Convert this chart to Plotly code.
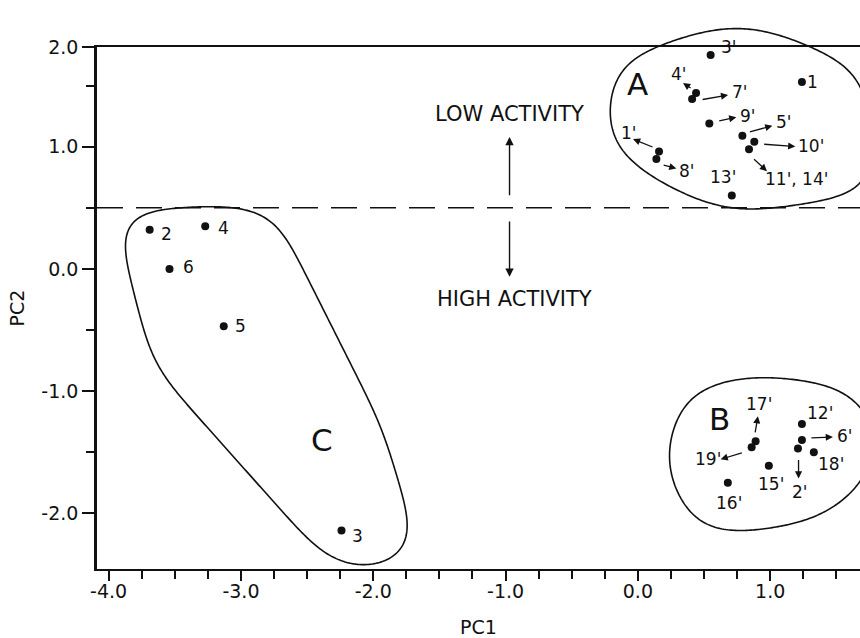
import numpy as np
import plotly.graph_objects as go

# ---------------- data ----------------
grp_a_labels = ["1", "3'", "4'", "7'", "9'", "5'", "10'", "11', 14'", "1'", "8'", "13'"]
grp_a_pc1 = [1.24, 0.55, 0.44, 0.41, 0.54, 0.79, 0.88, 0.84, 0.16, 0.14, 0.71]
grp_a_pc2 = [1.53, 1.75, 1.44, 1.39, 1.19, 1.09, 1.04, 0.98, 0.96, 0.90, 0.60]

grp_b_labels = ["17'", "19'", "12'", "6'", "2'", "18'", "15'", "16'"]
grp_b_pc1 = [0.89, 0.86, 1.24, 1.24, 1.21, 1.33, 0.99, 0.68]
grp_b_pc2 = [-1.41, -1.46, -1.27, -1.40, -1.47, -1.50, -1.61, -1.75]

grp_c_labels = ["2", "4", "6", "5", "3"]
grp_c_pc1 = [-3.69, -3.27, -3.54, -3.13, -2.24]
grp_c_pc2 = [0.32, 0.35, 0.00, -0.47, -2.14]

activity_cutoff = 0.5

x_tick_vals = [-4, -3, -2, -1, 0, 1]
x_tick_text = ["-4.0", "-3.0", "-2.0", "-1.0", "0.0", "1.0"]
y_tick_vals = [-2, -1, 0, 1, 2]
y_tick_text = ["-2.0", "-1.0", "0.0", "1.0", "2.0"]

# ---------------- layout geometry ----------------
W_FIG, H_FIG = 860, 638
ML, MR, MT, MB = 97, 0, 47, 69
X0, X1 = -4.088, 1.679
Y0, Y1 = -2.456, 1.816
PW, PH = W_FIG - ML - MR, H_FIG - MT - MB
SX, SY = PW / (X1 - X0), PH / (Y1 - Y0)

FONT = "DejaVu Sans"
INK = "#111111"
LABEL_FS = 17
GROUP_FS = 31

# label offsets from each point, screen pixels (x right, y down)
label_offset = {
    "1": (10.5, 0), "3'": (18.5, -8), "4'": (-17, -19), "7'": (48, -7),
    "9'": (39, -7.5), "5'": (41.5, -13.5), "10'": (57, 4), "11', 14'": (47, 30),
    "1'": (-30, -19), "8'": (31, 12.4), "13'": (-8.4, -18.6),
    "17'": (3, -37), "19'": (-44, 12), "12'": (18, -11), "6'": (43, -4),
    "2'": (2.3, 43), "18'": (17, 12), "15'": (2.4, 18), "16'": (1, 20),
    "2": (17, 4), "4": (18, 2), "6": (19, -2), "5": (17, 0), "3": (16, 6),
}
# leader arrows: (tail dx, tail dy, head dx, head dy) in screen pixels
label_arrow = {
    "4'": (-4, -4, -13, -10), "7'": (9, 0.7, 36, -4), "9'": (8.4, -2.4, 27, -6.2),
    "5'": (6, -3.4, 30, -10), "10'": (8.4, 2.3, 41, 4.7), "11', 14'": (3.6, 8.8, 18, 22),
    "1'": (-5, -4, -26, -12.5), "8'": (5.8, 5.7, 20, 9.5),
    "17'": (-0.7, -7.4, 2.3, -25), "19'": (-8.3, 5, -31, 12), "6'": (8, -2, 31, -3),
    "2'": (0.6, 10, 0.6, 30),
}
# group letters (data coordinates), enclosure clearances (left, right, top, bottom) px
# and smoothing length (px) of each enclosure outline
group_letter = {"A": (0.0, 1.51), "B": (0.62, -1.23), "C": (-2.39, -1.40)}
group_pad = {"A": (16, 48, 16, 13), "B": (30, 26, 22, 24), "C": (26, 50, 16, 26)}
group_smooth = {"A": 32, "B": 28, "C": 26}
extra_clearance = {"5": 74}


def to_px(x, y):
    return ML + (x - X0) * SX, MT + (Y1 - y) * SY


def to_paper(px, py):
    return (px - ML) / PW, 1 - (py - MT) / PH


def text_halfsize(txt, fs):
    w = 0.0
    for ch in txt:
        if ch.isdigit():
            w += 0.636
        elif ch in "',":
            w += 0.29
        elif ch == " ":
            w += 0.318
        else:
            w += 0.7
    return w * fs / 2, 0.37 * fs


def convex_hull(pts):
    pts = sorted(set(pts))

    def cross(o, a, b):
        return (a[0] - o[0]) * (b[1] - o[1]) - (a[1] - o[1]) * (b[0] - o[0])
    lower, upper = [], []
    for p in pts:
        while len(lower) >= 2 and cross(lower[-2], lower[-1], p) <= 0:
            lower.pop()
        lower.append(p)
    for p in reversed(pts):
        while len(upper) >= 2 and cross(upper[-2], upper[-1], p) <= 0:
            upper.pop()
        upper.append(p)
    return lower[:-1] + upper[:-1]


def smooth_closed(poly, sigma, step=2.0):
    """Resample a closed polygon evenly and low-pass it along its arc length."""
    p = np.array(poly + [poly[0]], dtype=float)
    seg = np.hypot(*np.diff(p, axis=0).T)
    s = np.concatenate([[0], np.cumsum(seg)])
    n = int(s[-1] / step)
    t = np.linspace(0, s[-1], n, endpoint=False)
    xs = np.interp(t, s, p[:, 0])
    ys = np.interp(t, s, p[:, 1])
    k = np.arange(-int(3 * sigma / step), int(3 * sigma / step) + 1)
    w = np.exp(-0.5 * (k * step / sigma) ** 2)
    w /= w.sum()
    xs2 = sum(wi * np.roll(xs, -ki) for ki, wi in zip(k, w))
    ys2 = sum(wi * np.roll(ys, -ki) for ki, wi in zip(k, w))
    return np.column_stack([xs2, ys2])


def enclosure_path(name, xs, ys, labels):
    pl, pr, pt, pb = group_pad[name]
    boxes = []
    for x, y, lab in zip(xs, ys, labels):
        cx, cy = to_px(x, y)
        e = extra_clearance.get(lab)
        boxes.append((cx, cy, 4, 4, (e, e, e, e) if e else (pl, pr, pt, pb)))
        dx, dy = label_offset[lab]
        hw, hh = text_halfsize(lab, LABEL_FS)
        boxes.append((cx + dx, cy + dy, hw, hh, (pl, pr, pt, pb)))
    gx, gy = to_px(*group_letter[name])
    hw, hh = text_halfsize(name, GROUP_FS)
    boxes.append((gx, gy, hw, hh, (pl, pr, pt, pb)))
    pts = []
    for cx, cy, hw, hh, (l, r, t, b) in boxes:
        for th in np.linspace(0, 2 * np.pi, 48, endpoint=False):
            c, s = np.cos(th), np.sin(th)
            px = cx + np.sign(c) * hw + (r if c > 0 else l) * c
            py = cy + np.sign(s) * hh + (b if s > 0 else t) * s
            pts.append((round(px, 3), round(py, 3)))
    outline = smooth_closed(convex_hull(pts), group_smooth[name])
    coords = [to_paper(px, py) for px, py in outline]
    return "M " + " L ".join(f"{a:.5f},{b:.5f}" for a, b in coords) + " Z"


fig = go.Figure()
annotations = []
shapes = []

for name, xs, ys, labels in [("A", grp_a_pc1, grp_a_pc2, grp_a_labels),
                             ("B", grp_b_pc1, grp_b_pc2, grp_b_labels),
                             ("C", grp_c_pc1, grp_c_pc2, grp_c_labels)]:
    fig.add_trace(go.Scatter(
        x=xs, y=ys, mode="markers", text=labels, hoverinfo="text+x+y",
        marker=dict(size=8, color=INK), showlegend=False, cliponaxis=False))
    for x, y, lab in zip(xs, ys, labels):
        dx, dy = label_offset[lab]
        annotations.append(dict(x=x, y=y, xref="x", yref="y", text=lab, showarrow=False,
                                xshift=dx, yshift=-dy,
                                font=dict(family=FONT, size=LABEL_FS, color=INK)))
        if lab in label_arrow:
            tx, ty, hx, hy = label_arrow[lab]
            annotations.append(dict(
                x=x + hx / SX, y=y - hy / SY, ax=x + tx / SX, ay=y - ty / SY,
                xref="x", yref="y", axref="x", ayref="y", text="", showarrow=True,
                arrowhead=2, arrowsize=1.1, arrowwidth=1.3, arrowcolor=INK))
    gx, gy = group_letter[name]
    annotations.append(dict(x=gx, y=gy, xref="x", yref="y", text=name, showarrow=False,
                            font=dict(family=FONT, size=GROUP_FS, color=INK)))
    shapes.append(dict(type="path", xref="paper", yref="paper",
                       path=enclosure_path(name, xs, ys, labels),
                       line=dict(color=INK, width=1.6), layer="above"))

# activity threshold
shapes.append(dict(type="line", xref="paper", x0=0, x1=1, yref="y",
                   y0=activity_cutoff, y1=activity_cutoff,
                   line=dict(color=INK, width=1.6, dash="26px,13px")))

arrow_x = -0.97
annotations += [
    dict(x=arrow_x, y=1.08, ax=arrow_x, ay=0.59, xref="x", yref="y", axref="x", ayref="y",
         text="", showarrow=True, arrowhead=2, arrowsize=1.2, arrowwidth=1.4, arrowcolor=INK),
    dict(x=arrow_x, y=-0.065, ax=arrow_x, ay=0.40, xref="x", yref="y", axref="x", ayref="y",
         text="", showarrow=True, arrowhead=2, arrowsize=1.2, arrowwidth=1.4, arrowcolor=INK),
    dict(x=arrow_x, y=1.27, xref="x", yref="y", text="LOW ACTIVITY", showarrow=False,
         font=dict(family=FONT, size=21, color=INK)),
    dict(x=arrow_x + 0.04, y=-0.25, xref="x", yref="y", text="HIGH ACTIVITY", showarrow=False,
         font=dict(family=FONT, size=21, color=INK)),
]

tick_font = dict(family=FONT, size=19, color=INK)
fig.update_layout(
    width=W_FIG, height=H_FIG,
    margin=dict(l=ML, r=MR, t=MT, b=MB, pad=0),
    paper_bgcolor="white", plot_bgcolor="white",
    font=dict(family=FONT, color=INK),
    annotations=annotations, shapes=shapes,
    xaxis=dict(
        range=[X0, X1], showgrid=False, zeroline=False,
        showline=True, linecolor=INK, linewidth=2, mirror=True,
        tickmode="array", tickvals=x_tick_vals, ticktext=x_tick_text,
        ticks="outside", ticklen=10, tickwidth=1.5, tickcolor=INK, tickfont=tick_font,
        ticklabelstandoff=-6,
        minor=dict(dtick=0.25, tick0=0, ticks="outside", ticklen=8, tickwidth=1.5, tickcolor=INK),
        title=dict(text="PC1", font=dict(family=FONT, size=19, color=INK), standoff=20),
    ),
    yaxis=dict(
        range=[Y0, Y1], showgrid=False, zeroline=False,
        showline=True, linecolor=INK, linewidth=2.5, mirror=False,
        tickmode="array",
        # the 2.0 mark is carried by the top edge of the frame
        tickvals=y_tick_vals[:-1] + [Y1], ticktext=y_tick_text,
        ticks="outside", ticklen=12, tickwidth=1.5, tickcolor=INK, tickfont=tick_font,
        minor=dict(tickmode="array", tickvals=[-1.5, -0.5, 0.5, 1.5], ticks="outside",
                   ticklen=8, tickwidth=1.5, tickcolor=INK),
        title=dict(text="PC2", font=dict(family=FONT, size=19, color=INK), standoff=12),
    ),
)

fig.write_html("out.html")
